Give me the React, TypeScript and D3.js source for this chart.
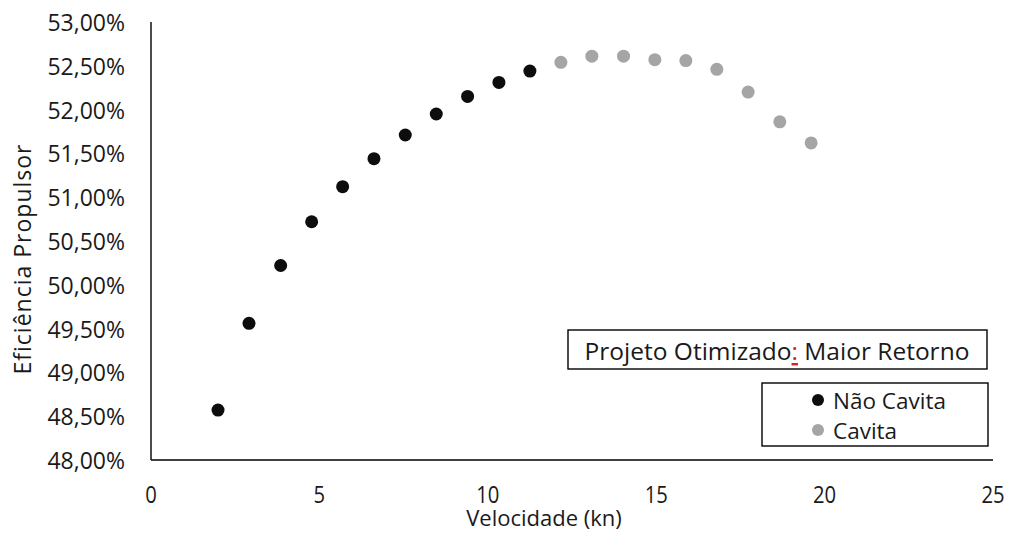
import React from "react";
import * as d3 from "d3";

// Propeller efficiency versus ship speed, split by cavitation regime
const speedNoCav = [1.99, 2.91, 3.85, 4.77, 5.69, 6.62, 7.55, 8.47, 9.4, 10.33, 11.25];
const effNoCav = [48.57, 49.56, 50.22, 50.72, 51.12, 51.44, 51.71, 51.95, 52.15, 52.31, 52.44];
const speedCav = [12.17, 13.09, 14.03, 14.96, 15.88, 16.8, 17.73, 18.67, 19.6];
const effCav = [52.54, 52.61, 52.61, 52.57, 52.56, 52.46, 52.2, 51.86, 51.62];

const xTicks = [0, 5, 10, 15, 20, 25];
const yTicks = [48, 48.5, 49, 49.5, 50, 50.5, 51, 51.5, 52, 52.5, 53];

const W = 1011;
const H = 534;
const FONT = "'Open Sans', 'Noto Sans', sans-serif";
const BLACK = "#0d0d0d";
const GREY = "#a5a5a5";

export default function App() {
  const x = d3.scaleLinear().domain([0, 25]).range([151, 993]);
  const y = d3.scaleLinear().domain([48, 53]).range([460, 22]);
  const fmt = (v: number) => d3.format(".2f")(v).replace(".", ",") + "%";

  const noCav = speedNoCav.map((s, i) => ({ s, e: effNoCav[i] }));
  const cav = speedCav.map((s, i) => ({ s, e: effCav[i] }));

  return (
    <svg
      width={W}
      height={H}
      style={{ position: "absolute", left: 0, top: 0, background: "#fff" }}
      fontFamily={FONT}
    >
      <rect width={W} height={H} fill="#fff" />

      {/* axes */}
      <line x1={x(0)} x2={x(0)} y1={y(53)} y2={y(48)} stroke="#000" strokeWidth={1.4} />
      <line x1={x(0)} x2={x(25)} y1={y(48)} y2={y(48)} stroke="#000" strokeWidth={1.4} />

      {/* y tick labels */}
      {yTicks.map((t) => (
        <text
          key={t}
          x={125}
          y={y(t)}
          textAnchor="end"
          dominantBaseline="central"
          fontSize={23}
          fill="#1a1a1a"
        >
          {fmt(t)}
        </text>
      ))}

      {/* x tick labels */}
      {xTicks.map((t) => (
        <text
          key={t}
          transform={`translate(${x(t)},494) scale(0.88,1)`}
          textAnchor="middle"
          dominantBaseline="central"
          fontSize={23}
          fill="#1a1a1a"
        >
          {t}
        </text>
      ))}

      {/* axis titles */}
      <text
        x={544}
        y={517}
        textAnchor="middle"
        dominantBaseline="central"
        fontSize={22}
        fill="#1a1a1a"
      >
        Velocidade (kn)
      </text>
      <text
        transform="translate(22,259) rotate(-90)"
        textAnchor="middle"
        dominantBaseline="central"
        fontSize={23}
        letterSpacing={1}
        fill="#1a1a1a"
      >
        Eficiência Propulsor
      </text>

      {/* points */}
      {noCav.map((d, i) => (
        <circle key={"n" + i} cx={x(d.s)} cy={y(d.e)} r={6.5} fill={BLACK} />
      ))}
      {cav.map((d, i) => (
        <circle key={"c" + i} cx={x(d.s)} cy={y(d.e)} r={6.5} fill={GREY} />
      ))}

      {/* title box */}
      <rect x={568} y={330} width={419} height={39} fill="#fff" stroke="#000" strokeWidth={1.4} />
      <text x={777} y={350} textAnchor="middle" dominantBaseline="central" fontSize={24.5} fill="#1a1a1a">
        Projeto Otimizado
        <tspan fill="#e0201c" style={{ textDecoration: "underline" }}>:</tspan> Maior Retorno
      </text>

      {/* legend */}
      <rect x={762} y={383} width={226} height={63} fill="#fff" stroke="#000" strokeWidth={1.4} />
      <circle cx={818} cy={400} r={6} fill={BLACK} />
      <text x={833} y={400} dominantBaseline="central" fontSize={22.5} fill="#1a1a1a">
        Não Cavita
      </text>
      <circle cx={818} cy={430} r={6} fill={GREY} />
      <text x={833} y={430} dominantBaseline="central" fontSize={22.5} fill="#1a1a1a">
        Cavita
      </text>
    </svg>
  );
}
